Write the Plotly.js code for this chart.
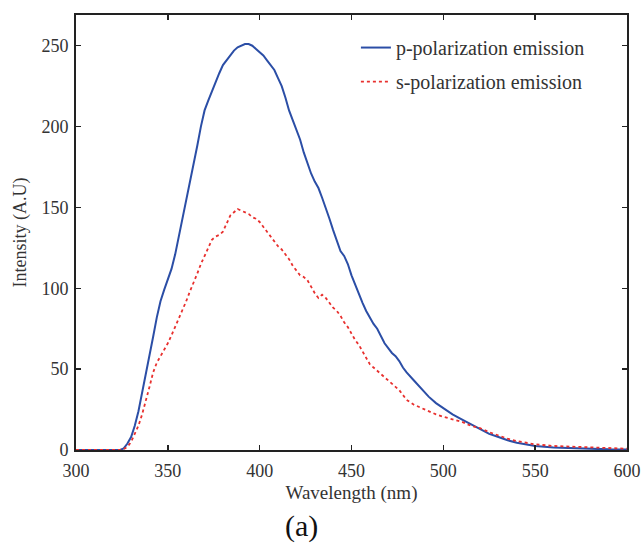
<!DOCTYPE html>
<html>
<head>
<meta charset="utf-8">
<script src="https://cdn.plot.ly/plotly-3.0.1.min.js"></script>
<style>html,body{margin:0;padding:0;background:#fff;}#chart{width:644px;height:553px;}</style>
</head>
<body>
<div id="chart"></div>
<script>
// p-polarization emission
var pWavelength = [300,320,324,326,328,330,332,334,336,338,340,342,344,346,348,350,352,354,356,358,360,362,364,366,368,370,372,374,376,378,380,382,384,386,388,390,392,394,396,398,400,402,404,406,408,410,412,414,416,418,420,422,424,426,428,430,432,434,436,438,440,442,444,446,448,450,452,454,456,458,460,462,464,466,468,470,472,474,476,478,480,484,488,492,496,500,505,510,515,520,525,530,535,540,545,550,560,570,580,590,600];
var pIntensity = [0,0,0,1,4,8,15,24,35,47,58,70,82,92,99,105,112,121,132,142,154,165,175,188,200,210,216,222,228,233,238,241,244,247,249,250,251,251,250,248,246,244,241,238,235,230,225,218,210,204,198,192,184,177,171,166,162,156,150,143,136,129,123,120,115,108,102,96,91,86,82,78,75,70,66,63,60,58,55,51,48,43,38,33,29,26,22,19,16,13,10,8,6,4.5,3.5,2.5,1.5,1,0.6,0.4,0.3];
// s-polarization emission
var sWavelength = [300,324,326,328,330,332,334,336,338,340,342,344,346,348,350,352,354,356,358,360,362,364,366,368,370,372,374,376,378,380,382,384,386,388,390,392,394,396,398,400,402,404,406,408,410,412,414,416,418,420,422,424,426,428,430,432,434,436,438,440,442,444,446,448,450,452,454,456,458,460,462,464,466,468,470,472,474,476,478,480,484,488,492,496,500,505,510,515,520,525,530,535,540,545,550,560,570,580,590,600];
var sIntensity = [0,0,0.5,2,5,10,15,22,30,39,48,54,58,62,66,71,76,81,87,92,98,103,109,115,120,126,130,132,133,135,140,145,147,149,148,147,146,144,143,141,138,135,132,129,126,124,121,118,114,111,108,107,105,101,97,94,96,94,91,88,86,83,79,76,72,68,65,61,57,53,51,49,47,45,43,41,39,37,34,31,28,26,24,22,20.5,19,17.5,15,13.5,11,9,7,5.5,4.5,3.5,2.5,2,1.5,1,0.8];
var xTicks = [300,350,400,450,500,550,600];
var yTicks = [0,50,100,150,200,250];

var serif = '"Liberation Serif", "Times New Roman", serif';
var traces = [
  {x: pWavelength, y: pIntensity, mode: 'lines', name: 'p-polarization emission', legendgroup: 'p',
   line: {color: '#2b4ea6', width: 2}},
  {x: sWavelength, y: sIntensity, mode: 'lines', name: 's-polarization emission', legendgroup: 's',
   line: {color: '#e8302e', width: 1.8, dash: 'dot'}}
];
var axisCommon = {
  showline: true, linecolor: '#222', linewidth: 2, mirror: 'ticks',
  ticks: 'inside', ticklen: 5, tickwidth: 1.5, tickcolor: '#222',
  showgrid: false, zeroline: false,
  tickfont: {family: serif, size: 18, color: '#333'}
};
var layout = {
  width: 644, height: 553,
  margin: {l: 76, r: 17, t: 15, b: 103},
  paper_bgcolor: '#fff', plot_bgcolor: '#fff',
  showlegend: true,
  legend: {x: 0.508, y: 0.97, xanchor: 'left', yanchor: 'top', bgcolor: 'rgba(0,0,0,0)',
           font: {family: serif, size: 20, color: '#333'}, traceorder: 'grouped', tracegroupgap: 5},
  xaxis: Object.assign({}, axisCommon, {range: [300, 600], tickvals: xTicks, ticklabelstandoff: 3,
    title: {text: 'Wavelength (nm)', font: {family: serif, size: 19, color: '#333'}, standoff: 6}}),
  yaxis: Object.assign({}, axisCommon, {range: [0, 269], tickvals: yTicks, ticklabelstandoff: 2,
    title: {text: 'Intensity (A.U)', font: {family: serif, size: 18, color: '#333'}, standoff: 10}}),
  annotations: [{text: '(a)', xref: 'paper', yref: 'paper', x: 0.41, y: -0.13, xanchor: 'center', yanchor: 'top',
    showarrow: false, font: {family: serif, size: 30, color: '#111'}}]
};
Plotly.newPlot('chart', traces, layout, {displayModeBar: false, staticPlot: true});
</script>
</body>
</html>
